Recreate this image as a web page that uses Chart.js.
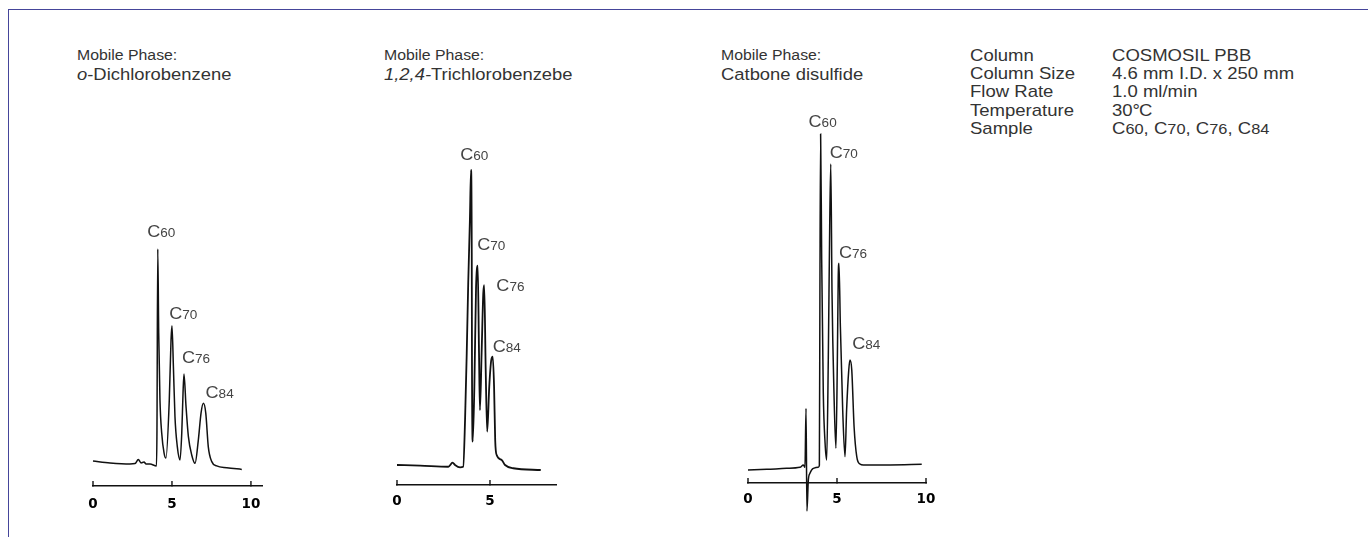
<!DOCTYPE html>
<html><head><meta charset="utf-8">
<script src="https://cdn.jsdelivr.net/npm/chart.js@4.4.1/dist/chart.umd.min.js"></script>
<style>
html,body{margin:0;padding:0;background:#fff;}
body{width:1368px;height:537px;position:relative;overflow:hidden;font-family:"Liberation Sans",Arial,Helvetica,sans-serif;color:#333;}
#frame{position:absolute;left:8px;top:9px;right:-20px;bottom:-20px;border-top:1.5px solid #45459a;border-left:1.5px solid #45459a;}
.t{position:absolute;white-space:nowrap;transform-origin:0 0;transform:scaleX(1.13);line-height:1;}
.mp{font-size:14px;}
.nm{font-size:16.3px;}
.info{font-size:16.4px;line-height:18.3px;}
.s{font-size:14.5px;}
canvas{position:absolute;top:0;}
</style></head><body>
<div id="frame"></div>

<div class="t mp" style="left:77px;top:48px">Mobile Phase:</div>
<div class="t nm" style="left:77px;top:65.7px"><i>o</i>-Dichlorobenzene</div>
<div class="t mp" style="left:384px;top:48px">Mobile Phase:</div>
<div class="t nm" style="left:384px;top:65.7px"><i>1,2,4-</i>Trichlorobenzebe</div>
<div class="t mp" style="left:721px;top:48px">Mobile Phase:</div>
<div class="t nm" style="left:721px;top:65.7px">Catbone disulfide</div>

<div class="t info" style="left:970px;top:45.7px">Column<br>Column Size<br>Flow Rate<br>Temperature<br>Sample</div>
<div class="t info" style="left:1112px;top:45.7px">COSMOSIL PBB<br>4.6 mm I.D. x 250 mm<br>1.0 ml/min<br>30<span style="letter-spacing:-1px">°</span>C<br>C<span class="s">60</span>, C<span class="s">70</span>, C<span class="s">76</span>, C<span class="s">84</span></div>

<canvas id="c1" width="229" height="537" style="left:63px"></canvas>
<canvas id="c2" width="219" height="537" style="left:367px"></canvas>
<canvas id="c3" width="238" height="537" style="left:718px"></canvas>

<script>
// ---- data (retention time in min, relative detector response) ----
const peakNames = ['C60', 'C70', 'C76', 'C84'];

// Chart 1: o-Dichlorobenzene
const times1  = [0.00,1.08,2.34,2.66,2.87,3.04,3.23,3.36,3.61,4.02,4.05,4.10,4.16,4.24,4.35,4.50,4.62,4.83,4.94,5.00,5.09,5.19,5.34,5.51,5.62,5.70,5.76,5.89,6.04,6.25,6.46,6.67,6.84,6.99,7.14,7.30,7.52,7.83,8.47,9.42];
const signal1 = [1.4,0.5,0.0,0.2,2.1,0.5,0.9,0.0,0.0,-0.9,15.8,100,60.9,29.8,14.4,5.1,2.8,29.8,57.7,64.3,45.3,22.0,8.0,1.9,14.4,33.0,41.9,26.7,12.7,4.2,0.3,11.2,23.7,28.2,23.7,8.0,1.1,-0.9,-1.7,-2.5];
const peakTimes1   = [4.10, 5.00, 5.76, 6.99];
const peakHeights1 = [100, 64.3, 41.9, 28.2];
const ticks1 = [0, 5, 10];

// Chart 2: 1,2,4-Trichlorobenzene
const times2  = [0.00,1.24,2.76,2.99,3.12,3.39,3.56,3.66,3.75,3.83,3.92,3.98,4.02,4.03,4.07,4.16,4.25,4.34,4.41,4.46,4.55,4.64,4.69,4.77,4.85,4.96,5.07,5.15,5.22,5.28,5.36,5.63,5.81,6.25,7.73];
const signal2 = [0.0,-0.2,-0.6,0.8,0.0,-0.8,-0.6,15.3,38.0,61.7,83.1,100,71.9,38.0,7.9,26.5,60.0,67.6,38.0,18.6,38.0,58.3,61.0,32.2,11.3,26.5,35.6,36.7,26.5,8.5,3.4,1.7,0.0,-1.1,-1.7];
const peakTimes2   = [3.98, 4.34, 4.69, 5.15];
const peakHeights2 = [100, 67.6, 61.0, 36.7];
const ticks2 = [0, 5];

// Chart 3: Carbon disulfide
const times3  = [0.00,1.05,2.17,2.92,3.11,3.20,3.26,3.31,3.39,3.48,3.67,3.95,4.01,4.04,4.08,4.14,4.23,4.33,4.42,4.51,4.59,4.65,4.72,4.83,4.94,5.02,5.07,5.11,5.19,5.32,5.45,5.54,5.66,5.73,5.83,5.96,6.11,6.29,6.48,7.98,9.76];
const signal3 = [-0.9,-0.7,-0.4,-0.1,0.6,-0.1,17.6,-13.2,-3.9,-1.9,-0.4,-0.1,0.6,52.3,100,62.2,22.2,7.2,2.1,32.1,72.2,91.0,52.3,22.2,5.6,32.1,57.1,61.2,42.1,17.1,3.1,17.1,29.1,32.1,29.1,12.1,3.1,0.9,0.6,0.6,0.8];
const peakTimes3   = [4.08, 4.65, 5.11, 5.73];
const peakHeights3 = [100, 91.0, 61.2, 32.1];
const ticks3 = [0, 5, 10];

// ---- drawing ----
const LABEL_FONT = '"Liberation Sans", Arial, Helvetica, sans-serif';
function makeDecor(id, tickVals, pTimes, pHeights, offsets) {
  return {
    id: id,
    afterDraw(chart) {
      const ctx = chart.ctx, xs = chart.scales.x, ys = chart.scales.y;
      const axisY = xs.top;
      ctx.save();
      ctx.strokeStyle = '#111';
      ctx.lineWidth = 1.4;
      tickVals.forEach(v => {
        const x = xs.getPixelForValue(v);
        ctx.beginPath(); ctx.moveTo(x, axisY + 0.5); ctx.lineTo(x, axisY - 5); ctx.stroke();
      });
      ctx.fillStyle = '#444';
      ctx.textBaseline = 'alphabetic';
      ctx.textAlign = 'left';
      const big = '16px ' + LABEL_FONT, small = '12px ' + LABEL_FONT, sx = 1.13;
      peakNames.forEach((n, i) => {
        const px = xs.getPixelForValue(pTimes[i]) + offsets[i][0];
        const py = ys.getPixelForValue(pHeights[i]) + offsets[i][1];
        ctx.font = big; const w1 = ctx.measureText(n[0]).width;
        ctx.font = small; const w2 = ctx.measureText(n.slice(1)).width;
        const total = (w1 + w2) * sx;
        ctx.save();
        ctx.translate(px - total / 2, py + 5.8);
        ctx.scale(sx, 1);
        ctx.font = big; ctx.fillText(n[0], 0, 0);
        ctx.font = small; ctx.fillText(n.slice(1), w1, 0);
        ctx.restore();
      });
      ctx.restore();
    }
  };
}

function makeChart(canvasId, times, signal, tickVals, xMax, yMin, yMax, padBottom, lineW, tickPad, pTimes, pHeights, offsets) {
  new Chart(document.getElementById(canvasId), {
    type: 'line',
    data: {
      datasets: [{
        data: times.map((t, i) => ({x: t, y: signal[i]})),
        borderColor: '#111',
        borderWidth: lineW,
        pointRadius: 0,
        fill: false,
        cubicInterpolationMode: 'monotone',
        clip: false
      }]
    },
    options: {
      responsive: false,
      animation: false,
      events: [],
      layout: {padding: {left: 30, right: 30, top: 100, bottom: padBottom}},
      plugins: {legend: {display: false}, tooltip: {enabled: false}},
      scales: {
        x: {
          type: 'linear', min: 0, max: xMax,
          afterBuildTicks: s => { s.ticks = tickVals.map(v => ({value: v})); },
          afterFit: s => { s.height = 40; },
          grid: {display: true, drawOnChartArea: false, drawTicks: false},
          border: {display: true, color: '#111', width: 1.5},
          ticks: {color: '#000', padding: tickPad, maxRotation: 0, autoSkip: false,
                  font: {family: '"DejaVu Sans", sans-serif', size: 13.5, weight: 'bold'},
                  callback: v => String(v)}
        },
        y: {display: false, min: yMin, max: yMax}
      }
    },
    plugins: [makeDecor('decor_' + canvasId, tickVals, pTimes, pHeights, offsets)]
  });
}

makeChart('c1', times1, signal1, ticks1, 10.7, -10.23, 169.3, 11, 1.5, 10, peakTimes1, peakHeights1,
  [[3.5, -18], [11.3, -13], [12, -16.5], [16.2, -11.5]]);
makeChart('c2', times2, signal2, ticks2, 8.55, -6.78, 123.73, 12, 1.8, 8, peakTimes2, peakHeights2,
  [[3.2, -15.8], [13.5, -21], [26.2, 0], [14, -11]]);
makeChart('c3', times3, signal3, ticks3, 10.0, -4.80, 110.21, 14, 1.5, 8, peakTimes3, peakHeights3,
  [[2, -13], [13, -12], [14, -11], [16.3, -16.7]]);
</script>
</body></html>
